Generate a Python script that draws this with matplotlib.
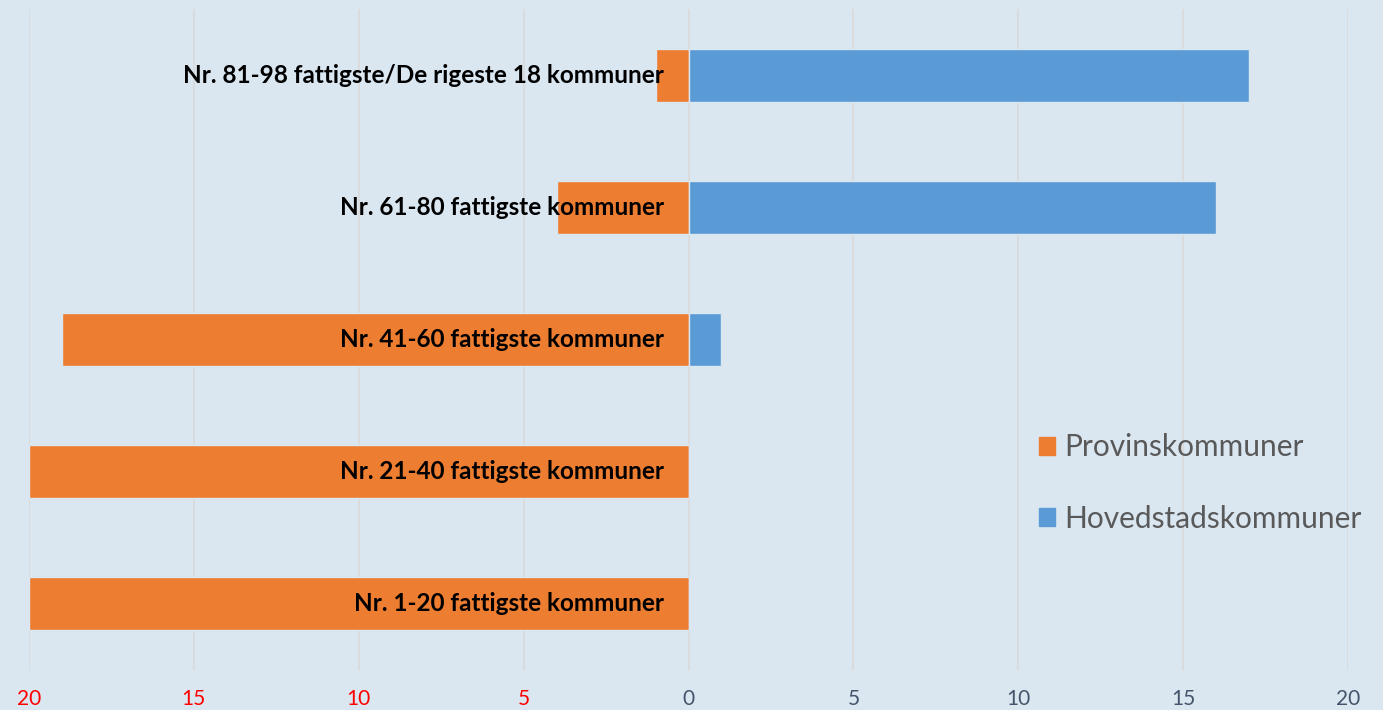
import numpy as np
import matplotlib.pyplot as plt
from matplotlib.patches import Patch

plt.rcParams['font.family'] = ['Lato', 'DejaVu Sans']

# data, top to bottom
groups = ["Nr. 81-98 fattigste/De rigeste 18 kommuner",
          "Nr. 61-80 fattigste kommuner",
          "Nr. 41-60 fattigste kommuner",
          "Nr. 21-40 fattigste kommuner",
          "Nr. 1-20 fattigste kommuner"]
provins = [1, 4, 19, 20, 20]
hovedstad = [17, 16, 1, 0, 0]
ticks = [-20, -15, -10, -5, 0, 5, 10, 15, 20]
tick_labels = ["20", "15", "10", "5", "0", "5", "10", "15", "20"]

bg = "#dae7f1"
orange = "#ed7d31"
blue = "#5b9bd5"

fig = plt.figure(figsize=(13.83, 7.10), dpi=100, facecolor=bg)
ax = fig.add_axes([29/1383, 40/710, (1348-29)/1383, 661/710], facecolor=bg)

y = np.arange(len(groups))[::-1]
ax.barh(y, -np.array(provins), height=0.4, color=orange, edgecolor=bg, linewidth=1)
ax.barh(y, hovedstad, height=0.4, color=blue, edgecolor=bg, linewidth=1)

for yi, g in zip(y, groups):
    ax.text(-0.75, yi, g, ha='right', va='center', fontsize=17.5,
            fontweight='bold', color='black')

ax.set_xlim(-20, 20)
ax.set_ylim(-0.5, len(groups) - 0.5)
ax.set_xticks(ticks)
ax.set_xticklabels(tick_labels, fontsize=15)
for lab, t in zip(ax.get_xticklabels(), ticks):
    lab.set_color('red' if t < 0 else '#44546a')
ax.tick_params(axis='x', length=0, pad=14)
ax.set_yticks([])
ax.grid(axis='x', color='#d9d9d9', linewidth=1.2)
ax.set_axisbelow(True)
for s in ax.spines.values():
    s.set_visible(False)

handles = [Patch(color=orange, label="Provinskommuner"),
           Patch(color=blue, label="Hovedstadskommuner")]
leg = ax.legend(handles=handles, loc='center left', bbox_to_anchor=(0.745, 0.283),
                frameon=False, fontsize=21.5, labelcolor='#595959',
                handlelength=0.55, handleheight=0.55, handletextpad=0.3,
                labelspacing=1.45)

fig.savefig("out.png", dpi=100, facecolor=bg)
